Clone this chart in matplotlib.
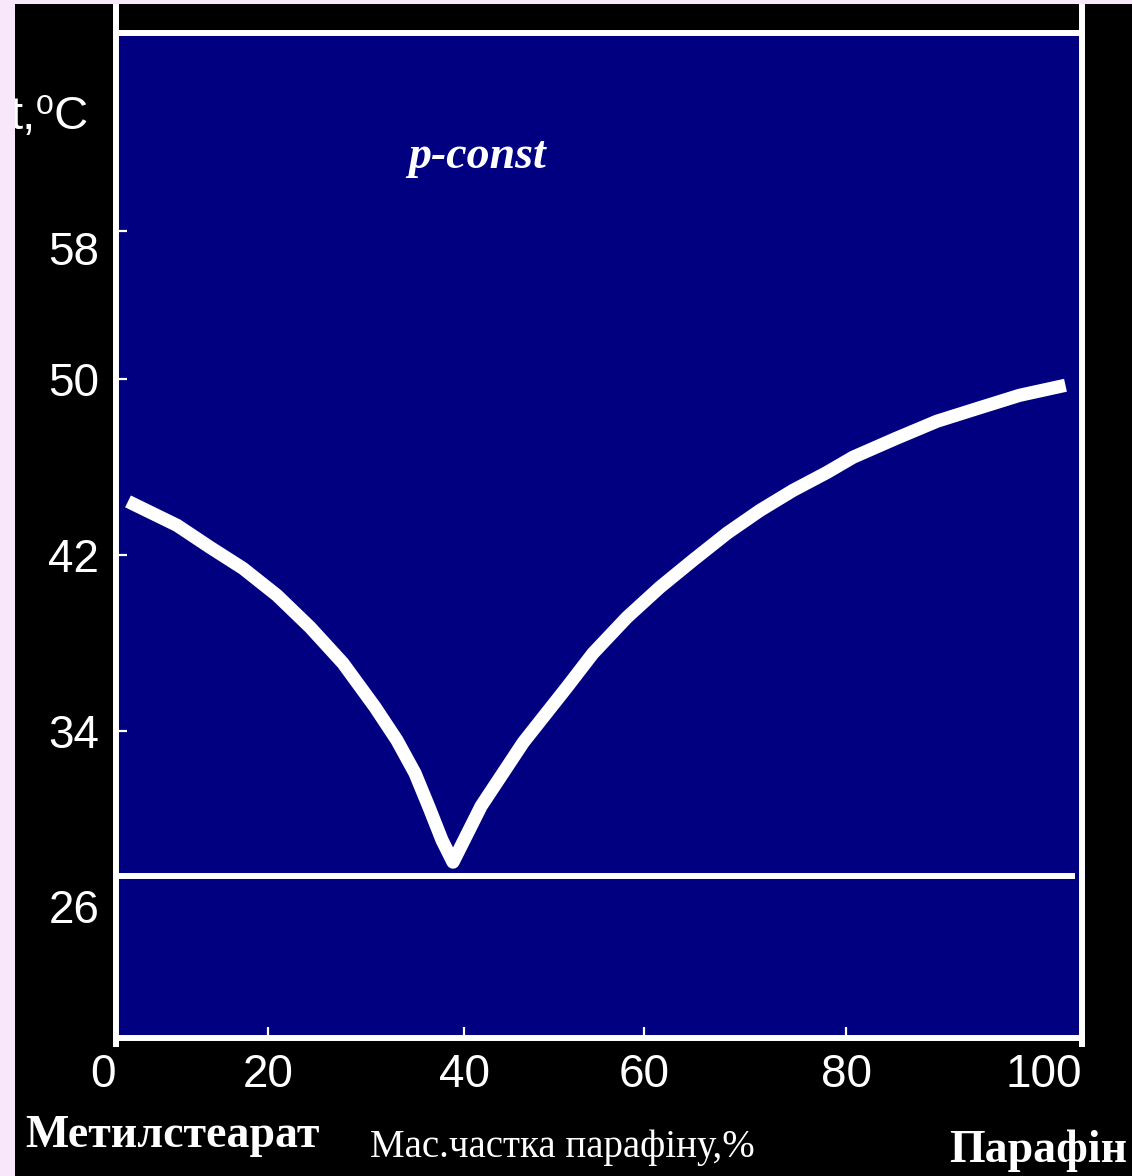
import numpy as np
import matplotlib
matplotlib.use("Agg")
import matplotlib.pyplot as plt
from matplotlib.patches import Rectangle
from matplotlib.lines import Line2D

W, H = 1132, 1176

# liquidus curve (mass fraction of paraffin, %; temperature, C)
mass_frac = [1.58, 8.03, 12.37, 16.71, 20.92, 24.29, 27.65, 30.92, 33.16, 35.0,
             36.43, 37.76, 38.88,
             41.9, 46.6, 51.44, 54.33, 58.11, 61.58, 64.85, 68.22, 71.49, 74.75,
             78.12, 80.59, 84.2, 87.7, 91.3, 94.7, 98.6]
temp = [44.44, 43.35, 42.35, 41.39, 40.16, 38.71, 37.07, 35.07, 33.56, 32.06,
        30.51, 29.01, 28.01,
        30.56, 33.47, 35.98, 37.52, 39.16, 40.53, 41.76, 42.99, 44.03, 44.94,
        45.76, 46.45, 47.3, 48.09, 48.7, 49.27, 49.73]

# eutectic (solidus) line
eutectic_t = 27.4
eutectic_x = [0, 99.4]

x_ticks = [0, 20, 40, 60, 80, 100]
x_labels = ["0", "20", "40", "60", "80", "100"]
y_ticks = [26, 34, 42, 50, 58]
y_labels = ["26", "34", "42", "50", "58"]

# the hand-drawn axes are not evenly spaced: piecewise scales through the ticks
X_NODES = [0, 20, 40, 60, 80, 100]
X_POS = [0, 152, 348, 528, 730, 966]
Y_NODES = [20, 50, 58, 69]
Y_POS = [0, 659, 807, 1006]


def fwd_x(v):
    return np.interp(v, X_NODES, X_POS)


def inv_x(v):
    return np.interp(v, X_POS, X_NODES)


def fwd_y(v):
    return np.interp(v, Y_NODES, Y_POS)


def inv_y(v):
    return np.interp(v, Y_POS, Y_NODES)


def fx(px):
    return px / W


def fy(py):
    return 1 - py / H


NUM_FONT = ["Liberation Sans Narrow", "Liberation Sans", "DejaVu Sans"]
SERIF = ["Liberation Serif", "DejaVu Serif"]

fig = plt.figure(figsize=(W / 100, H / 100), dpi=100, facecolor="#f8e6fa")
fig.add_artist(Rectangle((fx(15), 0), 1, fy(4), transform=fig.transFigure,
                         facecolor="black", edgecolor="none", zorder=-10))

ax = fig.add_axes([fx(116), fy(1038), fx(1082) - fx(116), fy(32.5) - fy(1038)])
ax.set_facecolor("#000080")
ax.set_xscale("function", functions=(fwd_x, inv_x))
ax.set_yscale("function", functions=(fwd_y, inv_y))
ax.set_xlim(0, 100)
ax.set_ylim(20, 69)

for s in ax.spines.values():
    s.set_color("white")
    s.set_linewidth(4.3)

ax.plot(mass_frac, temp, color="white", lw=9.5, solid_joinstyle="round",
        solid_capstyle="butt")
ax.plot(eutectic_x, [eutectic_t, eutectic_t], color="white", lw=4.3,
        solid_capstyle="butt")

ax.set_xticks(x_ticks)
ax.set_xticklabels(x_labels, family=NUM_FONT, fontsize=33, color="white")
ax.set_yticks(y_ticks)
ax.set_yticklabels(y_labels, family=NUM_FONT, fontsize=33, color="white")
ax.tick_params(axis="both", direction="in", color="white", length=8, width=1.6)
ax.tick_params(axis="x", pad=11)
ax.tick_params(axis="y", pad=12)
xl = ax.get_xticklabels()
xl[0].set_ha("right")
xl[-1].set_ha("right")
ax.get_yticklabels()[-1].set_va("top")
ax.yaxis.get_major_ticks()[0].tick1line.set_visible(False)
ax.xaxis.get_major_ticks()[0].tick1line.set_visible(False)
ax.xaxis.get_major_ticks()[-1].tick1line.set_visible(False)

# frame lines extending above and below the plot area
for px in (116, 1082):
    fig.add_artist(Line2D([fx(px), fx(px)], [fy(4), fy(33)], color="white",
                          lw=4.3, transform=fig.transFigure))
    fig.add_artist(Line2D([fx(px), fx(px)], [fy(1037), fy(1044)], color="white",
                          lw=4.3, transform=fig.transFigure))

ax.text(fx(408), fy(157), "p-const", transform=fig.transFigure, color="white",
        family=SERIF, style="italic", weight="bold", fontsize=33, va="center")

fig.text(fx(9), fy(117), "t,⁰C", color="white", family=NUM_FONT,
         fontsize=34, va="center", zorder=3)

fig.text(fx(25), fy(1147), "Метилстеарат", color="white", family=SERIF,
         weight="bold", fontsize=33, va="baseline")
fig.text(fx(370), fy(1157), "Мас.частка парафіну,%", color="white", family=SERIF,
         fontsize=28, va="baseline")
fig.text(fx(1127), fy(1162), "Парафін", color="white", family=SERIF,
         weight="bold", fontsize=33, va="baseline", ha="right")

# light strip along the left and top edge
fig.add_artist(Rectangle((0, 0), fx(15), 1, transform=fig.transFigure,
                         facecolor="#f8e6fa", edgecolor="none", zorder=10))
fig.add_artist(Rectangle((0, fy(4)), 1, 1, transform=fig.transFigure,
                         facecolor="#f8e6fa", edgecolor="none", zorder=10))

fig.savefig("out.png", dpi=100, facecolor=fig.get_facecolor())
